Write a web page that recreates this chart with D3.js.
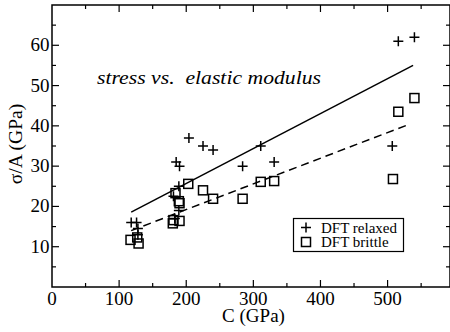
<!DOCTYPE html>
<html>
<head>
<meta charset="utf-8">
<script src="https://cdn.jsdelivr.net/npm/d3@7"></script>
<style>
  body { margin: 0; background: #fff; }
</style>
</head>
<body>
<div id="chart"></div>
<script>
// data: [C (GPa), sigma/A (GPa)]
let relaxed = [
  [118, 16], [126, 16], [128, 13], [128, 14.5],
  [181, 22.5], [183, 17], [185, 31], [189, 19], [189, 25], [190, 30],
  [204, 37], [225, 35], [240, 34], [284, 30], [311, 35], [331, 31],
  [507, 35], [516, 61], [540, 62]
];
let brittle = [
  [117, 11.7], [127, 12.3], [129, 10.8],
  [180, 15.8], [181, 16.6], [184, 23.3], [189, 21.3], [190, 20.8], [190, 16.4],
  [203, 25.6], [225, 24], [240, 21.9], [284, 21.9], [311, 26.1], [331, 26.3],
  [508, 26.8], [516, 43.5], [540, 46.9]
];
// linear fits, drawn as two end points
let fitRelaxed = [[118, 18.6], [538, 55]];
let fitBrittle = [[118, 14], [534, 40.5]];

let xTicks = [0, 100, 200, 300, 400, 500];
let yTicks = [10, 20, 30, 40, 50, 60];
let legendNames = ["DFT relaxed", "DFT brittle"];

////////////////////////////////////////////////////////////////////////
// svg + scales

let width = 450, height = 332;
let padLeft = 52, padRight = 450, padTop = 5, padBottom = 287;
let serif = "Liberation Serif";

let svg = d3.select("#chart").append("svg")
  .attr("width", width).attr("height", height)
  .style("font-family", serif);

let xScale = d3.scaleLinear().domain([0, 593]).range([padLeft, padRight]);
let yScale = d3.scaleLinear().domain([0, 70]).range([padBottom, padTop]);

// frame
svg.append("rect")
  .attr("x", padLeft).attr("y", padTop)
  .attr("width", padRight - padLeft).attr("height", padBottom - padTop)
  .style("fill", "none").style("stroke", "#000").style("stroke-width", 1.5);

// inward ticks on all four sides (major + minor)
let xMinor = d3.range(50, 593, 100);
let yMinor = d3.range(5, 70, 10);

function tickLines(vals, len, horizontal) {
  vals.forEach(function(v) {
    if (horizontal) {
      let x = xScale(v);
      svg.append("line").attr("x1", x).attr("x2", x).attr("y1", padBottom).attr("y2", padBottom - len)
        .style("stroke", "#000").style("stroke-width", 1.2);
      svg.append("line").attr("x1", x).attr("x2", x).attr("y1", padTop).attr("y2", padTop + len)
        .style("stroke", "#000").style("stroke-width", 1.2);
    } else {
      let y = yScale(v);
      svg.append("line").attr("x1", padLeft).attr("x2", padLeft + len).attr("y1", y).attr("y2", y)
        .style("stroke", "#000").style("stroke-width", 1.2);
      svg.append("line").attr("x1", padRight).attr("x2", padRight - len).attr("y1", y).attr("y2", y)
        .style("stroke", "#000").style("stroke-width", 1.2);
    }
  });
}
tickLines(xTicks.filter(function(d) { return d > 0; }), 7, true);
tickLines(xMinor, 4, true);
tickLines(yTicks, 7, false);
tickLines(yMinor, 4, false);

// tick labels
svg.selectAll(".xlab").data(xTicks).enter().append("text")
  .attr("class", "xlab")
  .attr("x", function(d) { return xScale(d); })
  .attr("y", 304.5)
  .style("font-family", serif)
  .style("text-anchor", "middle").style("font-size", "19px")
  .text(function(d) { return d; });

svg.selectAll(".ylab").data(yTicks).enter().append("text")
  .attr("class", "ylab")
  .attr("x", 49.5)
  .attr("y", function(d) { return yScale(d) + 6; })
  .style("font-family", serif)
  .style("text-anchor", "end").style("font-size", "19px")
  .text(function(d) { return d; });

// axis titles
svg.append("text")
  .attr("x", 253.5).attr("y", 321.5)
  .style("font-family", serif)
  .style("text-anchor", "middle").style("font-size", "19px")
  .text("C (GPa)");

svg.append("text")
  .attr("transform", "translate(21.5,144) rotate(-90)")
  .style("font-family", serif)
  .style("text-anchor", "middle").style("font-size", "19.5px")
  .text("σ/A (GPa)");

// annotation
svg.append("text")
  .attr("x", 97).attr("y", 84)
  .style("font-family", serif)
  .style("font-size", "19px").style("font-style", "italic")
  .attr("xml:space", "preserve")
  .attr("textLength", 224).attr("lengthAdjust", "spacingAndGlyphs")
  .text("stress vs.  elastic modulus");

////////////////////////
// fit lines

let line = d3.line()
  .x(function(d) { return xScale(d[0]); })
  .y(function(d) { return yScale(d[1]); });

svg.append("path").attr("d", line(fitRelaxed))
  .style("fill", "none").style("stroke", "#000").style("stroke-width", 1.5);

svg.append("path").attr("d", line(fitBrittle))
  .style("fill", "none").style("stroke", "#000").style("stroke-width", 1.5)
  .style("stroke-dasharray", "8,5");

////////////////////////
// markers

function plus(g, x, y) {
  g.append("path")
    .attr("d", "M" + (x - 5) + "," + y + "H" + (x + 5) + "M" + x + "," + (y - 5) + "V" + (y + 5))
    .style("stroke", "#000").style("stroke-width", 1.5).style("fill", "none");
}
function square(g, x, y) {
  g.append("rect")
    .attr("x", x - 4.5).attr("y", y - 4.5).attr("width", 9).attr("height", 9)
    .style("stroke", "#000").style("stroke-width", 1.5).style("fill", "none");
}

let marks = svg.append("g");
relaxed.forEach(function(d) { plus(marks, xScale(d[0]), yScale(d[1])); });
brittle.forEach(function(d) { square(marks, xScale(d[0]), yScale(d[1])); });

////////////////////////
// legend

let lg = svg.append("g");
lg.append("rect")
  .attr("x", 293.5).attr("y", 218.5).attr("width", 110).attr("height", 33)
  .style("fill", "#fff").style("stroke", "#000").style("stroke-width", 1.2);

legendNames.forEach(function(name, i) {
  let y = 227.5 + i * 14.5;
  if (i == 0) { plus(lg, 306, y); } else { square(lg, 306, y); }
  lg.append("text")
    .attr("x", 321).attr("y", y + 5)
    .style("font-family", serif)
    .style("font-size", "15px")
    .text(name);
});
</script>
</body>
</html>
